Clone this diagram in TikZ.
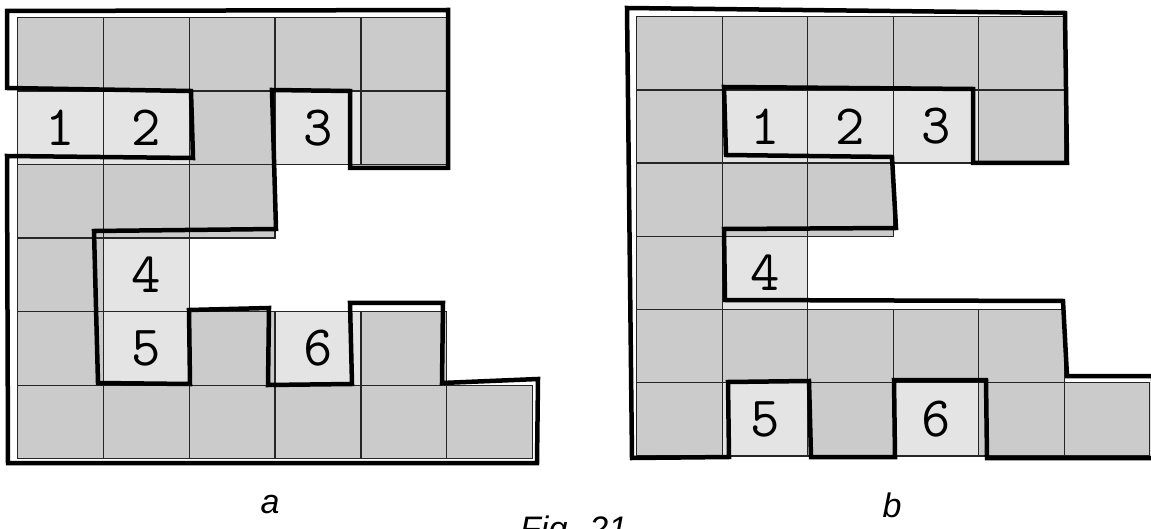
\documentclass[tikz,border=0pt]{standalone}
\usepackage{fontspec}
\setmainfont{Liberation Sans}
\definecolor{cdark}{RGB}{203,203,203}
\definecolor{clight}{RGB}{228,228,228}
\begin{document}
\begin{tikzpicture}[x=1pt,y=-1pt,
  cellbox/.style={draw=black!85, line width=1.4pt, inner sep=0pt, anchor=north west,
    font=\ttfamily\fontsize{57}{57}\selectfont},
  cella/.style={cellbox, minimum width=85.8pt, minimum height=73.5pt},
  cellb/.style={cellbox, minimum width=85.5pt, minimum height=73.2pt},
  outline/.style={draw=black, line width=4.5pt, line join=miter},
  caption/.style={font=\itshape\fontsize{34}{34}\selectfont, inner sep=0pt}]
\useasboundingbox (0,0) rectangle (1151,529);
% ---- grid a ----
\foreach \c/\r in {0/0,1/0,2/0,3/0,4/0, 2/1,4/1, 0/2,1/2,2/2, 0/3, 0/4,2/4,4/4, 0/5,1/5,2/5,3/5,4/5,5/5}
  \node[cella, fill=cdark] (a-\c-\r) at ({17+85.8*\c},{17+73.5*\r}) {};
\foreach \c/\r/\t in {0/1/1, 1/1/2, 3/1/3, 1/3/4, 1/4/5, 3/4/6}
  \node[cella, fill=clight] (a-\c-\r) at ({17+85.8*\c},{17+73.5*\r}) {\t};
\draw[outline] (7,88) -- (7,11) -- (448,10) -- (448,168) -- (350,168) -- (350,91)
  -- (272,90) -- (276,229) -- (94,231) -- (98,383) -- (190,384) -- (189,310)
  -- (269,308) -- (268,385) -- (352,384) -- (350,303) -- (443,303) -- (442,383)
  -- (538,379) -- (537,463) -- (8,463) -- (7,156) -- (193,158) -- (191,91) -- cycle;
% ---- grid b ----
\foreach \c/\r in {0/0,1/0,2/0,3/0,4/0, 0/1,4/1, 0/2,1/2,2/2, 0/3, 0/4,1/4,2/4,3/4,4/4, 0/5,2/5,4/5,5/5}
  \node[cellb, fill=cdark] (b-\c-\r) at ({636+85.5*\c},{16+73.2*\r}) {};
\foreach \c/\r/\t in {1/1/1, 2/1/2, 3/1/3, 1/3/4, 1/5/5, 3/5/6}
  \node[cellb, fill=clight] (b-\c-\r) at ({636+85.5*\c},{16+73.2*\r}) {\t};
\draw[outline] (627,8) -- (1065,13) -- (1067,163) -- (973,163) -- (973,89)
  -- (724,87) -- (726,155) -- (892,157) -- (896,228) -- (724,229) -- (725,300)
  -- (1063,301) -- (1067,376) -- (1153,376) -- (1153,458) -- (987,458) -- (986,380)
  -- (894,380) -- (895,457) -- (811,457) -- (809,381) -- (728,382) -- (729,457)
  -- (632,458) -- cycle;
% ---- captions ----
\node[caption, anchor=base] (capa) at (270,513) {a};
\node[caption, anchor=base] (capb) at (892,517) {b};
\node[caption, anchor=base west] (fig) at (520,540) {Fig. 21};
\end{tikzpicture}
\end{document}
